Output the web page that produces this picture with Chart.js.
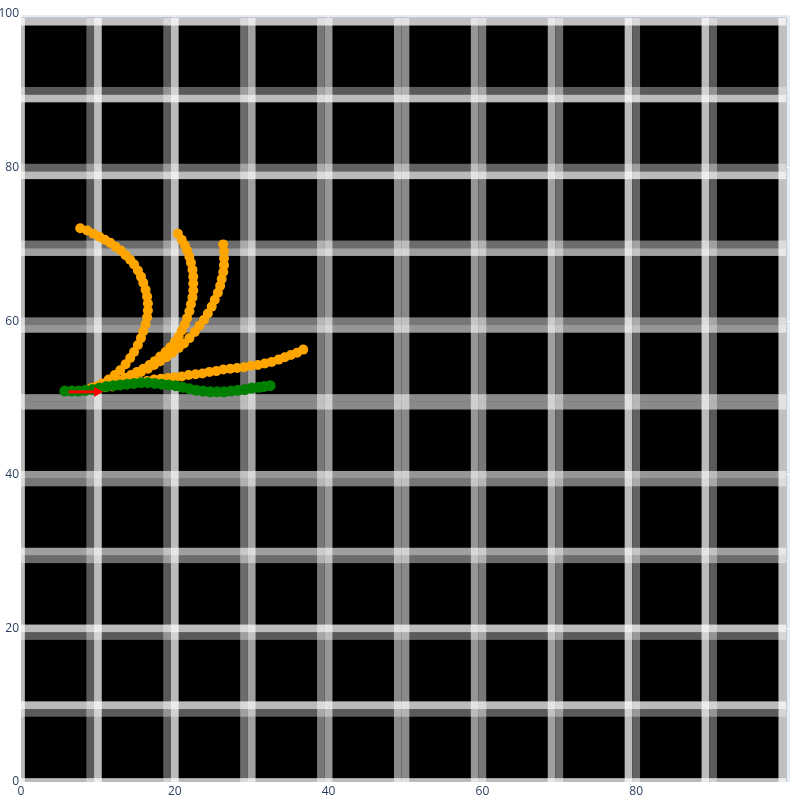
<!DOCTYPE html>
<html>
<head>
<meta charset="utf-8">
<script src="https://cdn.jsdelivr.net/npm/chart.js@4"></script>
<style>
html,body{margin:0;padding:0;background:#fff;}
canvas{display:block;}
</style>
</head>
<body>
<canvas id="c" width="800" height="800" style="width:800px;height:800px"></canvas>
<script>
// ---- data ----
const xTicks = [0, 20, 40, 60, 80, 100];
const yTicks = [0, 20, 40, 60, 80, 100];

const trajAX = [9.0,9.8,10.6,11.4,12.2,12.9,13.6,14.2,14.7,15.2,15.6,15.9,16.2,16.4,16.5,16.5,16.4,16.2,15.9,15.6,15.2,14.7,14.2,13.6,13.0,12.3,11.6,10.9,10.2,9.4,8.6,7.7];
const trajAY = [51.2,51.5,51.9,52.4,53.0,53.6,54.4,55.2,56.0,56.9,57.8,58.7,59.6,60.5,61.4,62.3,63.2,64.1,65.0,65.8,66.6,67.4,68.0,68.6,69.2,69.7,70.2,70.6,71.0,71.4,71.8,72.1];

const trajBX = [9.2,10.0,10.8,11.7,12.6,13.5,14.3,15.1,15.9,16.7,17.4,18.1,18.8,19.4,20.0,20.5,20.9,21.3,21.6,21.9,22.1,22.3,22.4,22.4,22.4,22.3,22.1,21.9,21.6,21.3,20.9,20.4];
const trajBY = [51.3,51.5,51.7,52.0,52.3,52.6,53.0,53.4,53.8,54.3,54.8,55.4,56.0,56.6,57.3,58.0,58.8,59.6,60.4,61.3,62.2,63.1,64.0,64.9,65.8,66.7,67.6,68.4,69.2,69.9,70.6,71.4];

const trajCX = [9.3,10.2,11.1,12.0,12.9,13.8,14.7,15.6,16.5,17.3,18.1,18.9,19.7,20.5,21.2,21.9,22.6,23.2,23.8,24.3,24.8,25.2,25.6,25.9,26.1,26.3,26.4,26.4,26.4,26.3];
const trajCY = [51.2,51.4,51.6,51.9,52.2,52.6,53.0,53.4,53.8,54.3,54.8,55.3,55.9,56.5,57.1,57.8,58.6,59.4,60.2,61.0,61.9,62.8,63.7,64.6,65.5,66.4,67.3,68.2,69.1,70.0];

const trajDX = [9.2,10.1,11.0,11.9,12.8,13.7,14.6,15.5,16.4,17.3,18.2,19.1,20.0,20.9,21.8,22.7,23.6,24.5,25.4,26.3,27.2,28.1,29.0,29.9,30.8,31.7,32.6,33.5,34.3,35.1,35.9,36.7];
const trajDY = [51.1,51.3,51.4,51.5,51.7,51.8,51.9,52.1,52.2,52.4,52.5,52.6,52.7,52.8,53.0,53.1,53.2,53.4,53.5,53.7,53.8,53.9,54.0,54.2,54.3,54.5,54.7,55.0,55.3,55.6,55.9,56.3];

const greenX = [5.7,6.6,7.5,8.4,9.3,10.2,11.1,12.0,12.9,13.8,14.7,15.6,16.5,17.4,18.3,19.2,20.1,21.0,21.9,22.8,23.7,24.6,25.5,26.4,27.3,28.2,29.1,30.0,30.9,31.6,32.4];
const greenY = [50.9,50.9,50.9,51.0,51.1,51.3,51.5,51.6,51.7,51.8,51.9,52.0,52.0,51.9,51.8,51.7,51.6,51.4,51.2,51.0,50.9,50.8,50.8,50.8,50.9,51.0,51.1,51.3,51.4,51.5,51.6];

const arrowX = [6.2, 9.9];
const arrowY = [50.8, 50.8];

// background grid image: line numbers of the picture behind the plot
const gridLineIndex = [1, 2, 3, 4, 5, 6, 7, 8, 9];

// ---- build ----
function pts(xs, ys) { return xs.map((x, i) => ({x: x, y: ys[i]})); }

const ORANGE = '#FFA500';
const GREEN = '#008000';

// grey levels (first stripe, second stripe) for each grid line of the background picture
const stripeShades = [[0x5a,0xbb],[0x5a,0xbb],[0x6c,0xa0],[0x77,0x96],[0x8a,0x8a],[0x96,0x77],[0xa0,0x6c],[0xbb,0x62],[0xbb,0x5a]];
function grey(v){ return 'rgb(' + v + ',' + v + ',' + v + ')'; }

const bgPlugin = {
  id: 'bg',
  beforeDraw(chart) {
    const {ctx, chartArea: a} = chart;
    ctx.save();
    ctx.fillStyle = '#E5ECF6';
    ctx.fillRect(a.left, a.top, a.right - a.left, a.bottom - a.top);
    ctx.restore();
  },
  beforeDatasetsDraw(chart) {
    const {ctx, chartArea: a, scales} = chart;
    const xs = scales.x, ys = scales.y;
    ctx.save();
    ctx.beginPath();
    ctx.rect(a.left, a.top, a.right - a.left, a.bottom - a.top);
    ctx.clip();
    const X = v => xs.getPixelForValue(v);
    const Y = v => ys.getPixelForValue(v);
    const x0 = X(-0.5), x1 = X(99.5), y0 = Y(99.5), y1 = Y(-0.5);
    ctx.fillStyle = '#000';
    ctx.fillRect(x0, y0, x1 - x0, y1 - y0);
    function vcol(c, v) {
      ctx.fillStyle = grey(v);
      const l = X(c - 0.5), r = X(c + 0.5);
      ctx.fillRect(l, y0, r - l, y1 - y0);
    }
    function hrow(rw, v) {
      ctx.fillStyle = grey(v);
      const t = Y(rw + 0.5), b = Y(rw - 0.5);
      ctx.fillRect(x0, t, x1 - x0, b - t);
    }
    vcol(0, 0xbb); vcol(99, 0xc0);
    gridLineIndex.forEach((k, i) => { vcol(10 * k - 1, stripeShades[i][0]); vcol(10 * k, stripeShades[i][1]); });
    ctx.globalCompositeOperation = 'screen';
    hrow(0, 0xbb); hrow(99, 0xc0);
    gridLineIndex.forEach((k, i) => { hrow(10 * k - 1, stripeShades[i][0]); hrow(10 * k, stripeShades[i][1]); });
    ctx.restore();
  }
};

const orangeCommon = {
  type: 'scatter', showLine: false, backgroundColor: ORANGE, borderColor: ORANGE,
  pointRadius: 5, pointHoverRadius: 5, borderWidth: 0, order: 2
};

new Chart(document.getElementById('c'), {
  type: 'scatter',
  data: {
    datasets: [
      Object.assign({label: 'traj A', data: pts(trajAX, trajAY)}, orangeCommon),
      Object.assign({label: 'traj B', data: pts(trajBX, trajBY)}, orangeCommon),
      Object.assign({label: 'traj C', data: pts(trajCX, trajCY)}, orangeCommon),
      Object.assign({label: 'traj D', data: pts(trajDX, trajDY)}, orangeCommon),
      {label: 'green', type: 'scatter', data: pts(greenX, greenY), showLine: false,
       backgroundColor: GREEN, borderColor: GREEN, pointRadius: 5.5, borderWidth: 0, order: 1},
      {label: 'arrow', type: 'line', data: pts(arrowX, arrowY), showLine: true,
       borderColor: '#ff0000', borderWidth: 3, backgroundColor: '#ff0000',
       pointRadius: [0, 6], pointStyle: 'triangle', pointRotation: 90,
       pointBackgroundColor: '#ff0000', pointBorderColor: '#ff0000', pointBorderWidth: 0, order: 0}
    ]
  },
  options: {
    responsive: false,
    animation: false,
    devicePixelRatio: 1,
    layout: {padding: {top: 14, right: 10, left: 0, bottom: 0}},
    plugins: {legend: {display: false}, tooltip: {enabled: false}},
    scales: {
      x: {
        type: 'linear', min: 0, max: 100,
        afterBuildTicks: s => { s.ticks = xTicks.map(v => ({value: v})); },
        afterFit: s => { s.height = 18; },
        ticks: {
          padding: 2, maxRotation: 0, autoSkip: false,
          color: '#2a3f5f', font: {family: 'Open Sans', size: 12},
          callback: v => (v === 100 ? '' : String(v))
        },
        grid: {color: '#ffffff', lineWidth: 1, drawTicks: false},
        border: {display: false}
      },
      y: {
        type: 'linear', min: 0, max: 100,
        afterBuildTicks: s => { s.ticks = yTicks.map(v => ({value: v})); },
        afterFit: s => { s.width = 21; },
        ticks: {
          padding: 2, autoSkip: false,
          color: '#2a3f5f', font: {family: 'Open Sans', size: 12},
          callback: v => String(v)
        },
        grid: {color: '#ffffff', lineWidth: 1, drawTicks: false},
        border: {display: false}
      }
    }
  },
  plugins: [bgPlugin]
});
</script>
</body>
</html>
